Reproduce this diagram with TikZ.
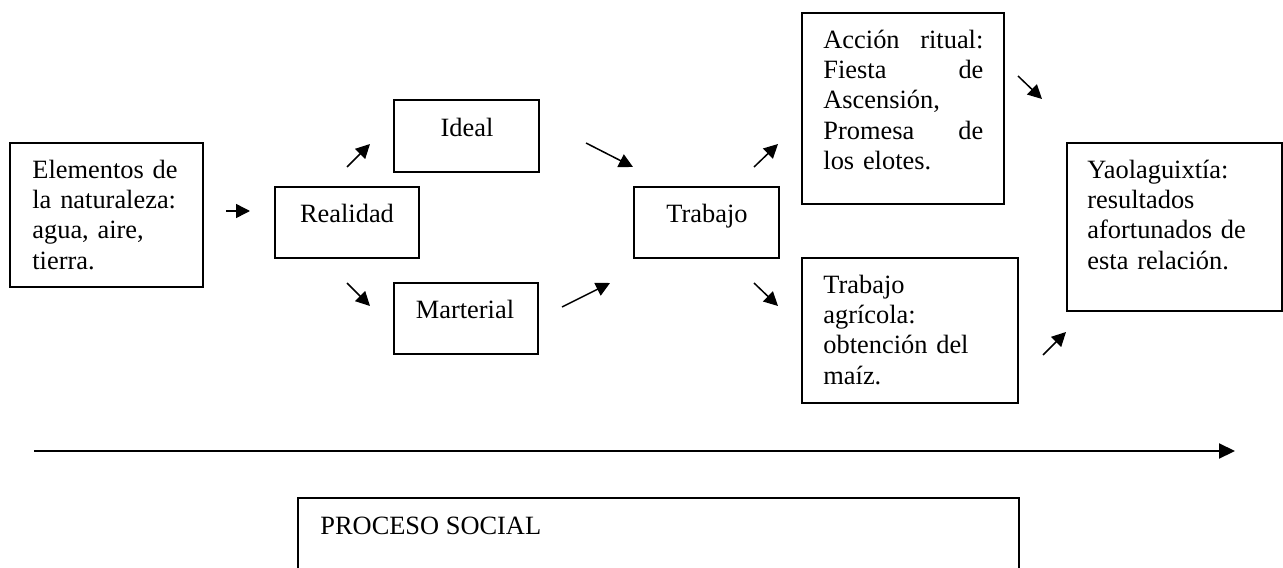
\documentclass[tikz,border=0pt]{standalone}
\usepackage{fontspec}
\setmainfont{Liberation Serif}
\usetikzlibrary{arrows.meta,fit}
\begin{document}
\begin{tikzpicture}[x=0.5pt,y=-0.5pt,
  box/.style={draw,line width=0.75pt,inner sep=0pt,rectangle},
  txt/.style={inner sep=0pt,font=\fontsize{13.2pt}{15.1pt}\selectfont},
  para/.style={txt,anchor=north west,align=left,text width=#1},
  arr/.style={line width=0.75pt,-{Triangle[length=7pt,width=7pt]}},
  longarr/.style={line width=1pt,-{Triangle[length=8pt,width=7.5pt]}}]
\useasboundingbox (0,0) rectangle (1283,567);
\fill[white] (0,0) rectangle (1283,567);
\clip (0,0) rectangle (1283,567);

% boxes
\node[box,fit={(10,143) (203,287)}] (elem) {};
\node[box,fit={(275,187) (419,258)}] (real) {};
\node[box,fit={(394,100) (539,172)}] (ideal) {};
\node[box,fit={(394,283) (538,354)}] (mat) {};
\node[box,fit={(634,187) (779,258)}] (trab) {};
\node[box,fit={(802,13) (1004,204)}] (ritual) {};
\node[box,fit={(802,258) (1018,403)}] (agri) {};
\node[box,fit={(1067,143) (1282,311)}] (yao) {};
\node[box,fit={(298,498) (1019,600)}] (proc) {};

% texts
\node[para=85pt] (elemT) at (32,156.9) {\strut Elementos de\\la naturaleza:\\agua, aire,\\tierra.};
\node[txt,anchor=base] (realT) at (347,222) {Realidad};
\node[txt,anchor=base] (idealT) at (467,136) {Ideal};
\node[txt,anchor=base] (matT) at (465,318) {Marterial};
\node[txt,anchor=base] (trabT) at (707,222) {Trabajo};
\node[para=80pt] (ritualT) at (823,26.9) {\strut Acción\hfill ritual:\\Fiesta\hfill de\\Ascensión,\\Promesa\hfill de\\los elotes.};
\node[para=90pt] (agriT) at (823,271.9) {\strut Trabajo\\agrícola:\\obtención del\\maíz.};
\node[para=95pt] (yaoT) at (1087,156.9) {\strut Yaolaguixtía:\\resultados\\afortunados de\\esta relación.};
\node[txt,anchor=base west] (procT) at (320,534) {PROCESO SOCIAL};

% arrow end points
\coordinate (a1s) at (226,211);  \coordinate (a1e) at (250,211);
\coordinate (a2s) at (347,167);  \coordinate (a2e) at (370,144);
\coordinate (a3s) at (347,283);  \coordinate (a3e) at (370,306);
\coordinate (a4s) at (586,143);  \coordinate (a4e) at (633,167);
\coordinate (a5s) at (562,307);  \coordinate (a5e) at (610,283);
\coordinate (a6s) at (754,167);  \coordinate (a6e) at (778,144);
\coordinate (a7s) at (754,283);  \coordinate (a7e) at (778,306);
\coordinate (a8s) at (1018,76);  \coordinate (a8e) at (1042,99);
\coordinate (a9s) at (1043,355); \coordinate (a9e) at (1066,332);
\coordinate (ts) at (34,451);    \coordinate (te) at (1235,451);

% arrows
\draw[arr] (a1s) -- (a1e);
\draw[arr] (a2s) -- (a2e);
\draw[arr] (a3s) -- (a3e);
\draw[arr] (a4s) -- (a4e);
\draw[arr] (a5s) -- (a5e);
\draw[arr] (a6s) -- (a6e);
\draw[arr] (a7s) -- (a7e);
\draw[arr] (a8s) -- (a8e);
\draw[arr] (a9s) -- (a9e);
\draw[longarr] (ts) -- (te);
\end{tikzpicture}
\end{document}
